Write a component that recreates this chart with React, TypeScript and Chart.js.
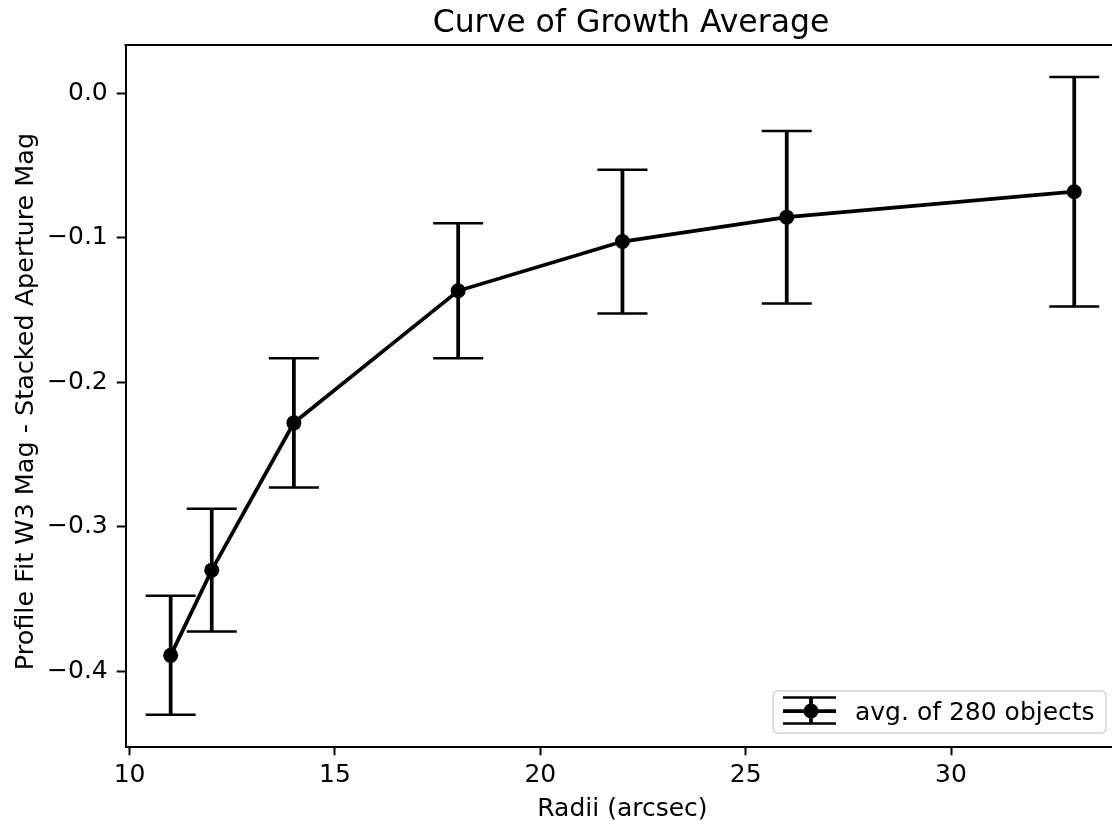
import React, { useEffect, useRef } from "react";
import { Chart, registerables } from "chart.js";

Chart.register(...registerables);

// ---- data ----
const radii = [11, 12, 14, 18, 22, 26, 33];
const meanDiff = [-0.389, -0.330, -0.228, -0.1366, -0.1025, -0.0856, -0.068];
const errDiff = [0.0412, 0.0425, 0.0447, 0.0467, 0.0498, 0.0597, 0.0795];
const xTicks = [10, 15, 20, 25, 30];
const xTickLabels = ["10", "15", "20", "25", "30"];
const yTicks = [-0.4, -0.3, -0.2, -0.1, 0.0];
const yTickLabels = ["\u22120.4", "\u22120.3", "\u22120.2", "\u22120.1", "0.0"];
const titleText = "Curve of Growth Average";
const xLabel = "Radii (arcsec)";
const yLabel = "Profile Fit W3 Mag - Stacked Aperture Mag";
const legendLabel = "avg. of 280 objects";

const FONT = "'DejaVu Sans', 'Noto Sans', sans-serif";
const CANVAS_W = 1130;
const CANVAS_H = 821;
const AREA_LEFT = 125.5;
const AREA_RIGHT = 1119.4;
const AREA_TOP = 45;
const AREA_BOTTOM = 746.5;

const errorBarPlugin = {
  id: "errorBars",
  beforeDatasetsDraw(chart: any) {
    const { ctx, scales } = chart;
    const xs = scales.x;
    const ys = scales.y;
    ctx.save();
    ctx.strokeStyle = "#000";
    radii.forEach((r, i) => {
      const px = xs.getPixelForValue(r);
      const top = ys.getPixelForValue(meanDiff[i] + errDiff[i]);
      const bot = ys.getPixelForValue(meanDiff[i] - errDiff[i]);
      ctx.lineWidth = 3.75;
      ctx.beginPath();
      ctx.moveTo(px, top);
      ctx.lineTo(px, bot);
      ctx.stroke();
      ctx.lineWidth = 2.5;
      ctx.beginPath();
      ctx.moveTo(px - 25, top);
      ctx.lineTo(px + 25, top);
      ctx.moveTo(px - 25, bot);
      ctx.lineTo(px + 25, bot);
      ctx.stroke();
    });
    ctx.restore();
  },
};

const decorPlugin = {
  id: "decor",
  afterDraw(chart: any) {
    const { ctx, chartArea } = chart;
    ctx.save();
    // top spine
    ctx.strokeStyle = "#000";
    ctx.lineWidth = 2;
    ctx.beginPath();
    ctx.moveTo(chartArea.left - 1, chartArea.top);
    ctx.lineTo(chartArea.right + 1, chartArea.top);
    ctx.stroke();

    ctx.fillStyle = "#000";
    // title
    ctx.font = `31.5px ${FONT}`;
    ctx.textAlign = "center";
    ctx.textBaseline = "alphabetic";
    ctx.fillText(titleText, 631, 31.5);
    // x label
    ctx.font = `25px ${FONT}`;
    ctx.fillText(xLabel, (chartArea.left + chartArea.right) / 2, 816);
    // y label
    ctx.save();
    ctx.font = `25.5px ${FONT}`;
    ctx.translate(33, 401.5);
    ctx.rotate(-Math.PI / 2);
    ctx.fillText(yLabel, 0, 0);
    ctx.restore();

    // legend
    const bx = 773, by = 691, bw = 333, bh = 42, rr = 5;
    ctx.beginPath();
    ctx.moveTo(bx + rr, by);
    ctx.lineTo(bx + bw - rr, by);
    ctx.arcTo(bx + bw, by, bx + bw, by + rr, rr);
    ctx.lineTo(bx + bw, by + bh - rr);
    ctx.arcTo(bx + bw, by + bh, bx + bw - rr, by + bh, rr);
    ctx.lineTo(bx + rr, by + bh);
    ctx.arcTo(bx, by + bh, bx, by + bh - rr, rr);
    ctx.lineTo(bx, by + rr);
    ctx.arcTo(bx, by, bx + rr, by, rr);
    ctx.closePath();
    ctx.fillStyle = "rgba(255,255,255,0.8)";
    ctx.fill();
    ctx.strokeStyle = "#d4d4d4";
    ctx.lineWidth = 1.5;
    ctx.stroke();

    const mx0 = 783, mx1 = 836, mcx = 811, mcy = 711;
    ctx.strokeStyle = "#000";
    ctx.lineWidth = 3.75;
    ctx.beginPath();
    ctx.moveTo(mx0, mcy);
    ctx.lineTo(mx1, mcy);
    ctx.moveTo(mcx, mcy - 13);
    ctx.lineTo(mcx, mcy + 13);
    ctx.stroke();
    ctx.lineWidth = 2.5;
    ctx.beginPath();
    ctx.moveTo(mx0, mcy - 13.5);
    ctx.lineTo(mx1, mcy - 13.5);
    ctx.moveTo(mx0, mcy + 12.5);
    ctx.lineTo(mx1, mcy + 12.5);
    ctx.stroke();
    ctx.fillStyle = "#000";
    ctx.beginPath();
    ctx.arc(mcx, mcy, 7.5, 0, Math.PI * 2);
    ctx.fill();

    ctx.font = `25px ${FONT}`;
    ctx.textAlign = "left";
    ctx.textBaseline = "alphabetic";
    ctx.fillText(legendLabel, 855, 720);
    ctx.restore();
  },
};

export default function App() {
  const ref = useRef<HTMLCanvasElement | null>(null);

  useEffect(() => {
    if (!ref.current) return;
    const chart = new Chart(ref.current, {
      type: "line",
      data: {
        datasets: [
          {
            label: legendLabel,
            data: radii.map((r, i) => ({ x: r, y: meanDiff[i] })),
            borderColor: "#000",
            backgroundColor: "#000",
            borderWidth: 3.75,
            pointRadius: 7.5,
            pointBackgroundColor: "#000",
            pointBorderWidth: 0,
            tension: 0,
            fill: false,
          },
        ],
      },
      options: {
        animation: false,
        responsive: false,
        devicePixelRatio: 1,
        layout: {
          padding: { left: 0, right: CANVAS_W - AREA_RIGHT, top: AREA_TOP, bottom: 0 },
        },
        plugins: {
          legend: { display: false },
          title: { display: false },
          tooltip: { enabled: false },
        },
        scales: {
          x: {
            type: "linear",
            min: 9.9,
            max: 34.1,
            afterFit: (s: any) => {
              s.height = CANVAS_H - AREA_BOTTOM;
            },
            afterBuildTicks: (s: any) => {
              s.ticks = xTicks.map((v) => ({ value: v }));
            },
            ticks: {
              autoSkip: false,
              maxRotation: 0,
              padding: 5,
              color: "#000",
              font: { family: FONT, size: 25 },
              callback: (v: any) => {
                const i = xTicks.findIndex((t) => Math.abs(t - Number(v)) < 1e-9);
                return i >= 0 ? xTickLabels[i] : "";
              },
            },
            grid: {
              display: true,
              drawOnChartArea: false,
              drawTicks: true,
              tickLength: 8.75,
              tickWidth: 2,
              tickColor: "#000",
            },
            border: { display: true, color: "#000", width: 2 },
          },
          y: {
            type: "linear",
            min: -0.4521,
            max: 0.0336,
            afterFit: (s: any) => {
              s.width = AREA_LEFT;
            },
            afterBuildTicks: (s: any) => {
              s.ticks = yTicks.map((v) => ({ value: v }));
            },
            ticks: {
              autoSkip: false,
              padding: 9,
              color: "#000",
              font: { family: FONT, size: 25 },
              callback: (v: any) => {
                const i = yTicks.findIndex((t) => Math.abs(t - Number(v)) < 1e-9);
                return i >= 0 ? yTickLabels[i] : "";
              },
            },
            grid: {
              display: true,
              drawOnChartArea: false,
              drawTicks: true,
              tickLength: 8.75,
              tickWidth: 2,
              tickColor: "#000",
            },
            border: { display: true, color: "#000", width: 2 },
          },
        },
      },
      plugins: [errorBarPlugin, decorPlugin],
    });
    return () => chart.destroy();
  }, []);

  return (
    <div
      style={{
        position: "fixed",
        left: 0,
        top: 0,
        width: 1112,
        height: 821,
        overflow: "hidden",
        background: "#fff",
      }}
    >
      <canvas
        ref={ref}
        width={CANVAS_W}
        height={CANVAS_H}
        style={{ width: CANVAS_W, height: CANVAS_H, display: "block" }}
      />
    </div>
  );
}
